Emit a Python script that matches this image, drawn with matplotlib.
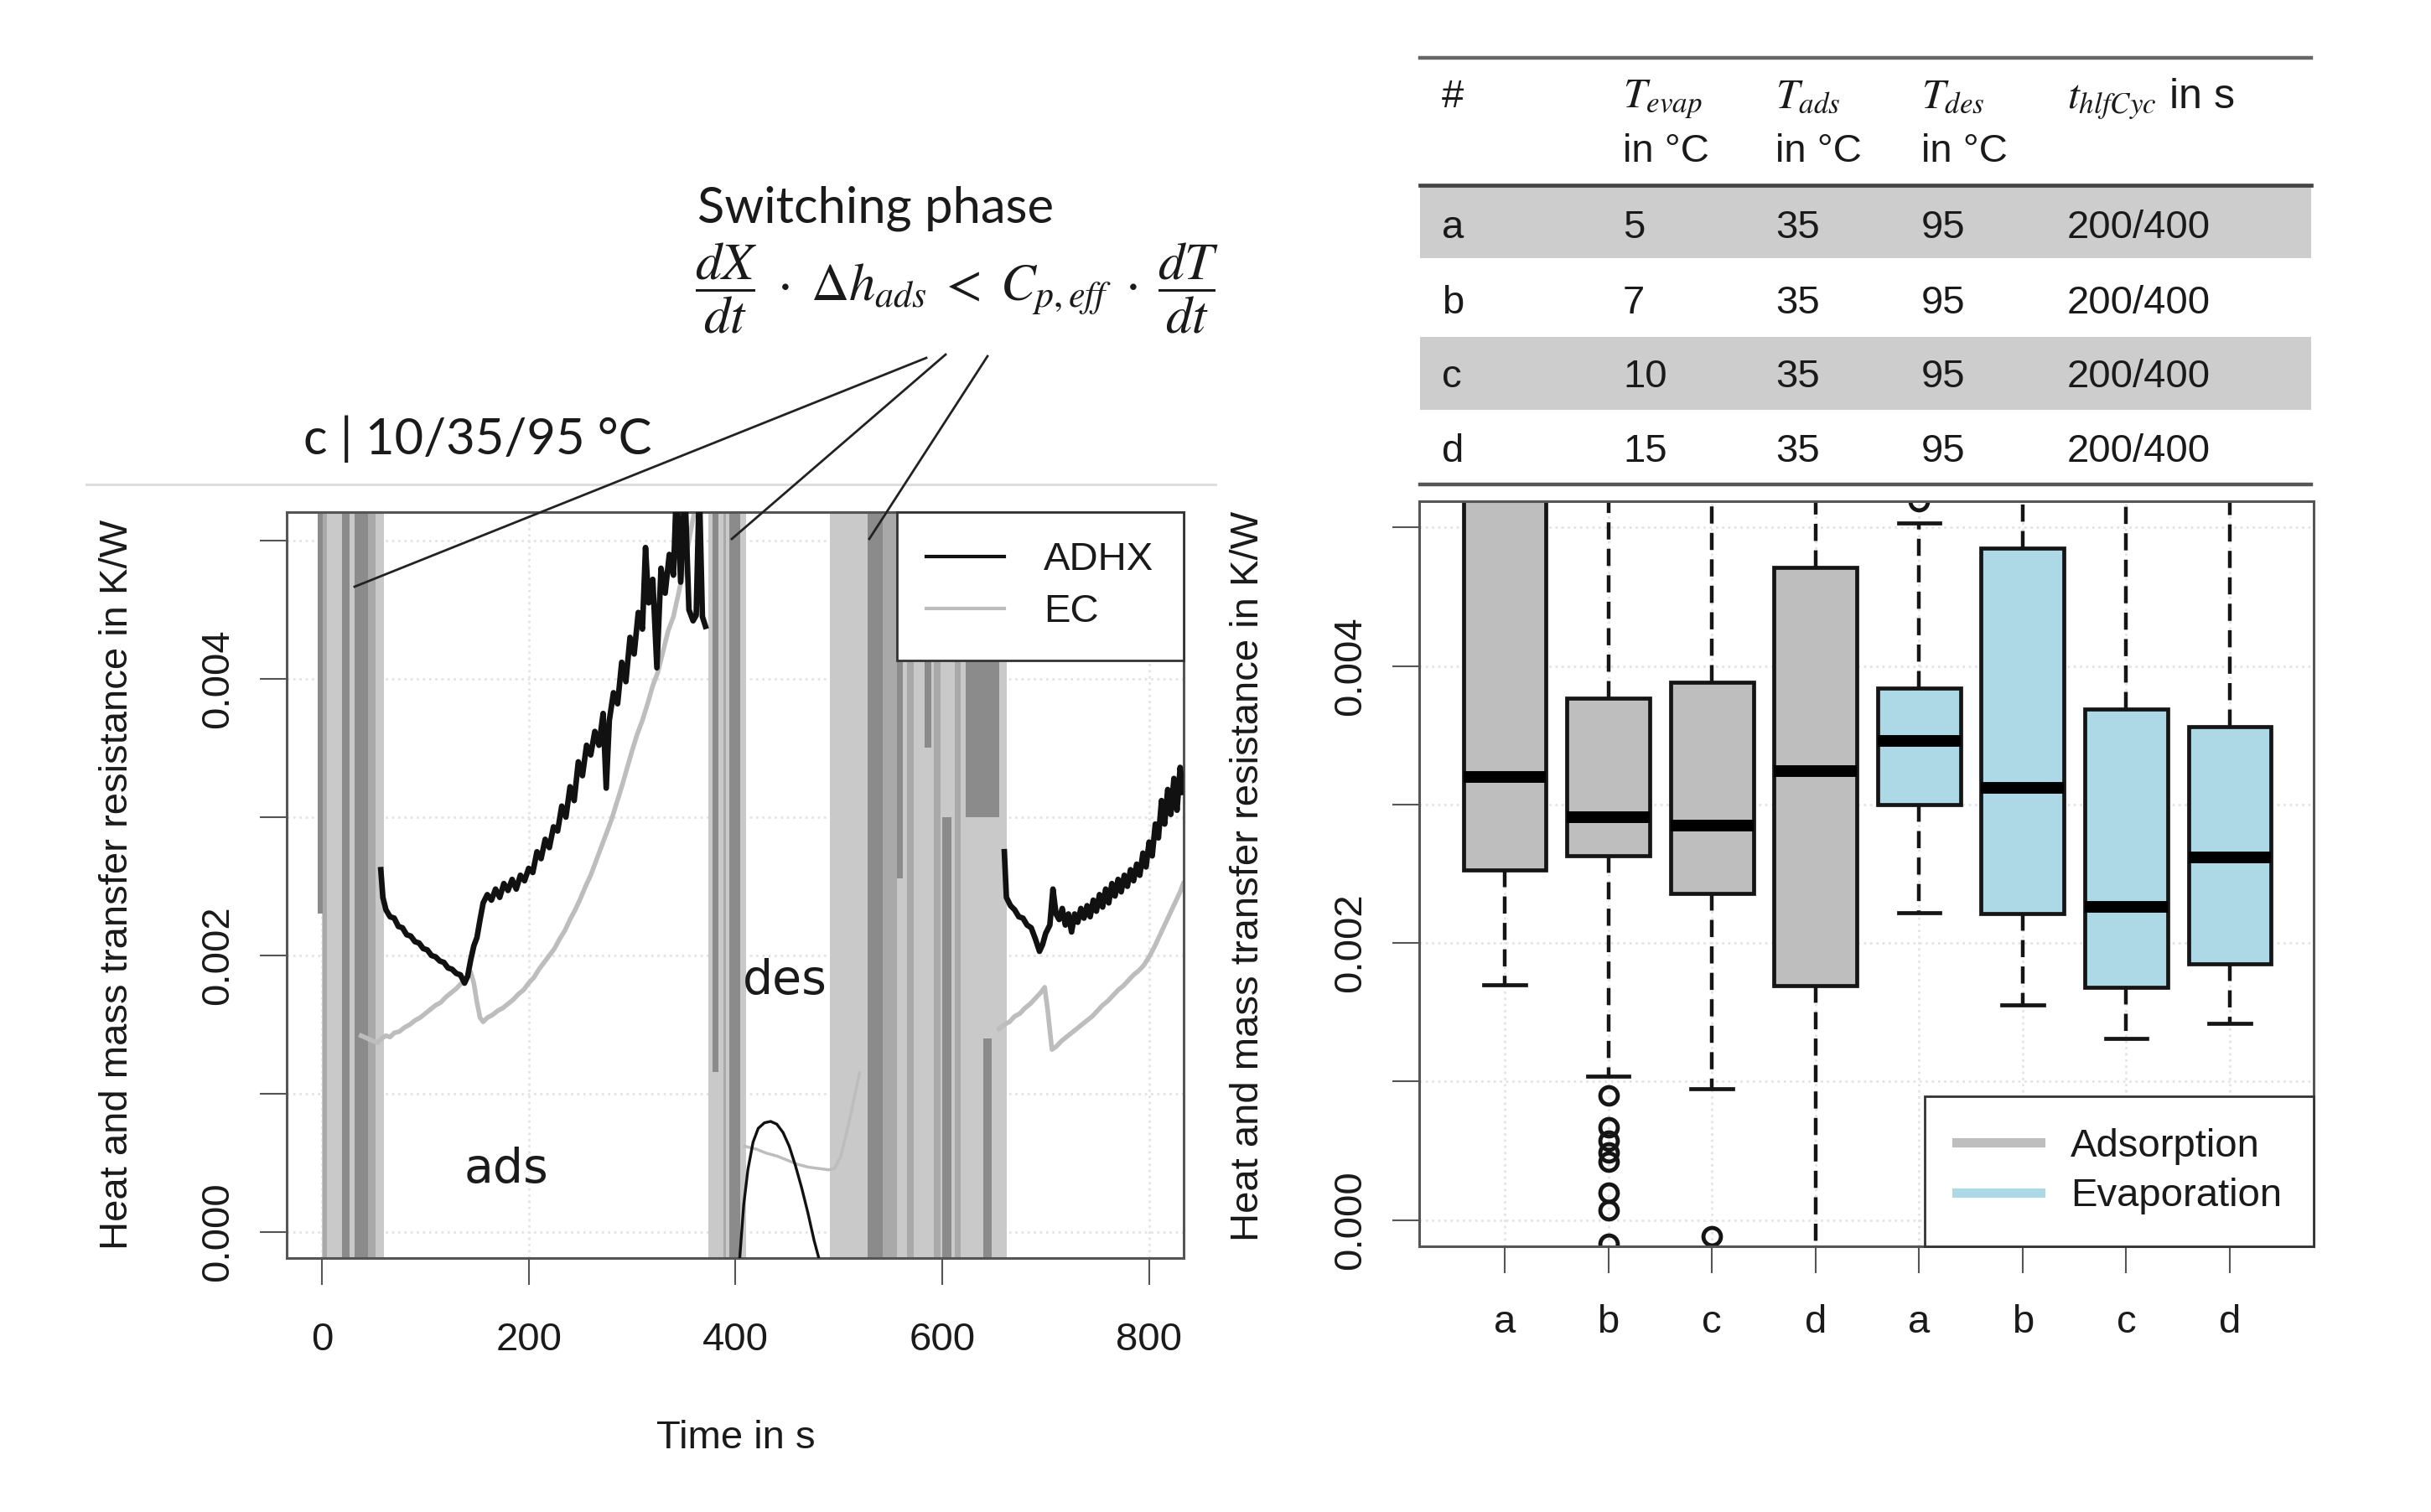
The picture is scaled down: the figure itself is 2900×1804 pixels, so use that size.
import numpy as np
import matplotlib
matplotlib.use('Agg')
import matplotlib.pyplot as plt
from matplotlib.lines import Line2D
from matplotlib.patches import Rectangle

plt.rcParams['font.family'] = ['Liberation Sans', 'DejaVu Sans']
plt.rcParams['mathtext.fontset'] = 'stix'

# ===================== DATA: left panel, case c | 10/35/95 °C =====================
# resistances are given in 1e-3 K/W
t_adhx_ads = [57, 59, 62, 66, 70, 74, 78, 82, 86, 90, 94, 98, 102, 106, 110, 114, 118, 122,
              126, 130, 134, 138, 141, 144, 147, 150, 153, 156, 160, 164, 168, 172, 176, 180,
              184, 188, 192, 196, 200, 204, 208, 212, 216, 220, 224, 228, 232, 236, 240, 244,
              248, 252, 256, 260, 264, 268, 272, 275, 278, 282, 286, 290, 294, 298, 302, 306,
              310, 313, 316, 320, 324, 328, 332, 336, 340, 343, 347, 351, 355, 359, 362, 365,
              368, 371]
r_adhx_ads = [2.62, 2.42, 2.33, 2.28, 2.27, 2.21, 2.20, 2.15, 2.14, 2.10, 2.09, 2.05, 2.04,
              2.00, 1.99, 1.96, 1.95, 1.91, 1.90, 1.87, 1.86, 1.80, 1.85, 1.97, 2.07, 2.13,
              2.26, 2.38, 2.44, 2.40, 2.48, 2.42, 2.52, 2.47, 2.55, 2.48, 2.58, 2.54, 2.63,
              2.60, 2.75, 2.70, 2.84, 2.78, 2.93, 2.90, 3.08, 3.00, 3.22, 3.12, 3.40, 3.30,
              3.52, 3.45, 3.62, 3.52, 3.75, 3.21, 3.70, 3.90, 3.82, 4.12, 3.98, 4.30, 4.18,
              4.48, 4.36, 4.95, 4.55, 4.72, 4.08, 4.80, 4.62, 4.90, 4.75, 5.40, 4.70, 5.40,
              4.50, 4.42, 4.46, 5.40, 4.45, 4.38]

t_ec_ads = [38, 44, 50, 54, 58, 62, 66, 70, 75, 80, 85, 90, 95, 100, 105, 110, 115, 120, 125,
            130, 135, 140, 144, 147, 150, 153, 156, 160, 165, 170, 175, 180, 185, 190, 195,
            200, 205, 210, 215, 220, 225, 230, 235, 240, 245, 250, 255, 260, 265, 270, 275,
            280, 285, 290, 295, 300, 305, 310, 315, 320, 325, 330, 335, 340, 345, 350, 355,
            360, 365]
r_ec_ads = [1.42, 1.40, 1.38, 1.37, 1.40, 1.42, 1.41, 1.44, 1.45, 1.48, 1.50, 1.53, 1.55,
            1.58, 1.61, 1.64, 1.66, 1.70, 1.73, 1.76, 1.80, 1.84, 1.88, 1.80, 1.66, 1.55,
            1.52, 1.55, 1.57, 1.60, 1.62, 1.65, 1.68, 1.72, 1.75, 1.80, 1.84, 1.90, 1.95,
            2.00, 2.05, 2.12, 2.18, 2.26, 2.33, 2.41, 2.50, 2.58, 2.68, 2.78, 2.88, 2.98,
            3.10, 3.22, 3.35, 3.48, 3.60, 3.70, 3.82, 3.95, 4.05, 4.20, 4.35, 4.45, 4.62,
            4.80, 5.00, 5.20, 5.40]

t_adhx_des = [404, 408, 412, 417, 422, 428, 434, 440, 446, 452, 458, 464, 470, 476, 481]
r_adhx_des = [-0.20, 0.20, 0.45, 0.65, 0.75, 0.79, 0.80, 0.78, 0.72, 0.62, 0.48, 0.32,
              0.14, -0.06, -0.20]

t_ec_des = [409, 420, 430, 440, 450, 460, 470, 480, 490, 496, 502, 510, 520]
r_ec_des = [0.62, 0.60, 0.57, 0.55, 0.52, 0.49, 0.47, 0.46, 0.45, 0.46, 0.55, 0.80, 1.15]

t_adhx_ads2 = [660, 662, 666, 670, 674, 678, 682, 686, 690, 694, 697, 700, 704, 707, 710,
               713, 716, 719, 722, 725, 728, 731, 734, 737, 740, 743, 746, 749, 752, 755,
               758, 761, 764, 767, 770, 773, 776, 779, 782, 785, 788, 791, 794, 797, 800,
               803, 806, 809, 812, 815, 818, 821, 824, 827, 830, 833]
r_adhx_ads2 = [2.75, 2.42, 2.36, 2.33, 2.28, 2.27, 2.22, 2.20, 2.12, 2.03, 2.08, 2.16, 2.22,
               2.48, 2.30, 2.26, 2.34, 2.22, 2.30, 2.17, 2.30, 2.24, 2.34, 2.27, 2.36, 2.28,
               2.40, 2.32, 2.44, 2.35, 2.48, 2.38, 2.52, 2.43, 2.55, 2.46, 2.58, 2.50, 2.62,
               2.54, 2.66, 2.58, 2.74, 2.64, 2.82, 2.72, 2.95, 2.85, 3.12, 2.95, 3.20, 3.02,
               3.28, 3.05, 3.36, 3.18]

t_ec_ads2 = [655, 660, 665, 670, 675, 680, 685, 690, 695, 699, 702, 706, 710, 715, 720, 725,
             730, 735, 740, 745, 750, 755, 760, 765, 770, 775, 780, 785, 790, 795, 800, 805,
             810, 815, 820, 825, 830, 833]
r_ec_ads2 = [1.47, 1.50, 1.52, 1.56, 1.58, 1.62, 1.65, 1.69, 1.73, 1.77, 1.60, 1.32, 1.34,
             1.38, 1.41, 1.44, 1.47, 1.50, 1.53, 1.56, 1.60, 1.64, 1.67, 1.71, 1.75, 1.78,
             1.82, 1.86, 1.89, 1.93, 1.99, 2.06, 2.14, 2.22, 2.30, 2.38, 2.46, 2.52]

# switching phases: oscillating signals fill the range (start s, end s, low, high in 1e-3 K/W)
ec_sw_t0 = [0, 374, 491]
ec_sw_t1 = [60, 410, 662]
mix_sw_t0 = [1, 45, 388, 542, 566, 592, 612]
mix_sw_t1 = [5, 52, 391, 556, 572, 598, 618]
adhx_sw_t0 = [-4, 19.5, 32, 378, 394, 528, 556, 583, 600, 623, 640]
adhx_sw_t1 = [1, 27, 45, 383.5, 404.5, 542, 562, 589, 609, 655, 648]
adhx_sw_lo = [2.3, -9, -9, 1.16, -9, -9, 2.56, 3.5, -9, 3.0, -9]
adhx_sw_hi = [9, 9, 9, 9, 9, 9, 9, 9, 3.0, 9, 1.4]

# ===================== DATA: right panel, boxplots =====================
box_labels = ['a', 'b', 'c', 'd', 'a', 'b', 'c', 'd']
box_group = ['Adsorption'] * 4 + ['Evaporation'] * 4
box_q1 = [2.53, 2.63, 2.36, 1.69, 3.00, 2.21, 1.68, 1.85]
box_med = [3.20, 2.91, 2.85, 3.24, 3.46, 3.12, 2.26, 2.62]
box_q3 = [6.20, 3.77, 3.88, 4.71, 3.84, 4.85, 3.69, 3.56]
box_wlo = [1.70, 1.04, 0.95, -1.00, 2.22, 1.55, 1.31, 1.42]
box_whi = [8.00, 6.00, 6.00, 7.00, 5.03, 6.50, 6.00, 6.00]
box_fliers = [[], [0.90, 0.67, 0.57, 0.49, 0.42, 0.20, 0.07, -0.17], [-0.12], [],
              [5.19], [], [], []]

# ===================== DATA: table =====================
tab_case = ['a', 'b', 'c', 'd']
tab_t_evap = ['5', '7', '10', '15']
tab_t_ads = ['35', '35', '35', '35']
tab_t_des = ['95', '95', '95', '95']
tab_t_cyc = ['200/400', '200/400', '200/400', '200/400']

K = 1e-3
W, H = 2900, 1804
fig = plt.figure(figsize=(W / 100, H / 100), dpi=100)
TXT = '#1a1a1a'
FRAME = '#555555'
FS = 34


def px(x0, y0, x1, y1):
    return [x0 / W, 1 - y1 / H, (x1 - x0) / W, (y1 - y0) / H]


def style_axes(ax):
    for s in ax.spines.values():
        s.set_color(FRAME)
        s.set_linewidth(2.2)
    ax.tick_params(length=23, width=1.5, color=FRAME, labelsize=FS, labelcolor=TXT)
    ax.tick_params(axis='y', labelrotation=90, pad=20)
    for lab in ax.get_yticklabels():
        lab.set_va('center')
    ax.grid(True, color='#e4e4e4', linestyle=':', linewidth=2)
    ax.set_axisbelow(True)


yt = [0, 0.001, 0.002, 0.003, 0.004, 0.005]
ytl = ['0.000', '', '0.002', '', '0.004', '']

# -------- LEFT: time series --------
ax = fig.add_axes(px(342, 611, 1412, 1501))
ax.set_xlim(-34, 833.4)
ax.set_ylim(-0.000188, 0.005206)

for t0, t1 in zip(ec_sw_t0, ec_sw_t1):
    ax.fill_between([t0, t1], -1, 1, color='#c9c9c9', lw=0, zorder=1)
for t0, t1 in zip(mix_sw_t0, mix_sw_t1):
    ax.fill_between([t0, t1], -1, 1, color='#a9a9a9', lw=0, zorder=1.1)
for t0, t1, lo, hi in zip(adhx_sw_t0, adhx_sw_t1, adhx_sw_lo, adhx_sw_hi):
    ax.fill_between([t0, t1], lo * K, hi * K, color='#8b8b8b', lw=0, zorder=1.2)

ec_col = '#bdbdbd'
ax.plot(t_ec_ads, np.array(r_ec_ads) * K, color=ec_col, lw=4, zorder=2)
ax.plot(t_ec_des, np.array(r_ec_des) * K, color=ec_col, lw=2.5, zorder=2)
ax.plot(t_ec_ads2, np.array(r_ec_ads2) * K, color=ec_col, lw=4, zorder=2)
ax.plot(t_adhx_ads, np.array(r_adhx_ads) * K, color='#111111', lw=4.8, zorder=3)
ax.plot(t_adhx_des, np.array(r_adhx_des) * K, color='#111111', lw=2.4, zorder=3)
ax.plot(t_adhx_ads2, np.array(r_adhx_ads2) * K, color='#111111', lw=4.8, zorder=3)

ax.set_xticks([0, 200, 400, 600, 800])
ax.set_yticks(yt)
ax.set_yticklabels(ytl)
style_axes(ax)
ax.tick_params(axis='x', pad=32)

ax.text(178, 0.000355, 'ads', family='DejaVu Sans', fontsize=41, color=TXT,
        ha='center', va='baseline', zorder=5)
ax.text(448, 0.00172, 'des', family='DejaVu Sans', fontsize=41, color=TXT,
        ha='center', va='baseline', zorder=5)

leg = ax.legend([Line2D([], [], color='#111111', lw=3), Line2D([], [], color=ec_col, lw=3)],
                ['ADHX', 'EC'], loc='upper right', bbox_to_anchor=(1, 1), borderaxespad=0,
                fontsize=FS, fancybox=False, framealpha=1, edgecolor='#333333',
                handlelength=1.97, handletextpad=1.0, borderpad=0.75, labelspacing=0.38)
leg.get_frame().set_linewidth(2)
leg.set_zorder(6)
for tx in leg.get_texts():
    tx.set_color(TXT)

# -------- RIGHT: boxplots --------
ax2 = fig.add_axes(px(1693, 598, 2760, 1487))
pos = np.arange(1, len(box_labels) + 1)
stats = []
for i in range(len(box_labels)):
    stats.append(dict(q1=box_q1[i] * K, med=box_med[i] * K, q3=box_q3[i] * K,
                      whislo=box_wlo[i] * K, whishi=box_whi[i] * K,
                      fliers=np.array(box_fliers[i]) * K, label=box_labels[i]))
EDGE = '#151515'
bp = ax2.bxp(stats, positions=pos, widths=0.8, capwidths=0.4, patch_artist=True,
             boxprops=dict(edgecolor=EDGE, linewidth=3.4),
             medianprops=dict(color='black', linewidth=10, solid_capstyle='butt'),
             whiskerprops=dict(color=EDGE, linewidth=3.2, linestyle=(0, (4.6, 2.5))),
             capprops=dict(color=EDGE, linewidth=3.4),
             flierprops=dict(marker='o', markerfacecolor='none', markeredgecolor=EDGE,
                             markersize=15, markeredgewidth=3.5))
group_col = {'Adsorption': '#bebebe', 'Evaporation': '#add8e6'}
for b, g in zip(bp['boxes'], box_group):
    b.set_facecolor(group_col[g])
ax2.set_xlim(0.1746, 8.809)
ax2.set_ylim(-0.00019, 0.00519)
ax2.set_yticks(yt)
ax2.set_yticklabels(ytl)
ax2.set_xticks(pos)
ax2.set_xticklabels(box_labels)
style_axes(ax2)
ax2.tick_params(axis='x', pad=27)

leg2 = ax2.legend([Line2D([], [], color=group_col['Adsorption'], lw=8),
                   Line2D([], [], color=group_col['Evaporation'], lw=8)],
                  ['Adsorption', 'Evaporation'], loc='lower right', bbox_to_anchor=(1, 0),
                  borderaxespad=0, fontsize=FS, fancybox=False, framealpha=1,
                  edgecolor='#333333', handlelength=2.12, handletextpad=0.76,
                  borderpad=0.8, labelspacing=0.33)
leg2.get_frame().set_linewidth(2)
for tx in leg2.get_texts():
    tx.set_color(TXT)

# axis titles
ylab = 'Heat and mass transfer resistance in K/W'
fig.text(140 / W, 1 - 1055 / H, ylab, rotation=90, ha='center', va='center',
         fontsize=FS, color=TXT)
fig.text(1489 / W, 1 - 1045 / H, ylab, rotation=90, ha='center', va='center',
         fontsize=FS, color=TXT)
fig.text(878 / W, 1 - 1728 / H, 'Time in s', ha='center', va='baseline',
         fontsize=FS, color=TXT)

# -------- overlay in pixel coordinates: annotations and table --------
ov = fig.add_axes([0, 0, 1, 1], zorder=10)
ov.set_xlim(0, W)
ov.set_ylim(H, 0)
ov.axis('off')
ov.patch.set_alpha(0)

ov.plot([103, 1450], [578, 578], color='#dedede', lw=2.2)
ov.text(832, 265, 'Switching phase', family=['Lato', 'DejaVu Sans'], fontsize=43,
        color=TXT, ha='left', va='baseline')
ov.text(829, 344,
        r'$\dfrac{dX}{dt}\;\cdot\;\Delta h_{ads}\;<\;C_{p,eff}\;\cdot\;\dfrac{dT}{dt}$',
        fontsize=45, color=TXT, ha='left', va='center')
ov.text(362, 542, 'c | 10/35/95 °C', family=['Lato', 'DejaVu Sans'], fontsize=43,
        color=TXT, ha='left', va='baseline')
for (x0, y0), (x1, y1) in [((1105, 427), (423, 700)), ((1128, 423), (873, 643)),
                           ((1178, 425), (1037, 643))]:
    ov.plot([x0, x1], [y0, y1], color='#222222', lw=2)

# table
TL, TR = 1694, 2757
row_top = [222, 312, 402, 491]
row_bot = [308, 398, 489, 576]
row_base = [284, 374, 462, 551]
for i in (0, 2):
    ov.add_patch(Rectangle((TL, row_top[i]), TR - TL, row_bot[i] - row_top[i],
                           facecolor='#cdcdcd', edgecolor='none'))
ov.plot([TL, TR], [69, 69], color='#666666', lw=3.2)
ov.plot([TL, TR], [221, 221], color='#444444', lw=3.4)
ov.plot([TL, TR], [578, 578], color='#555555', lw=3.2)

col_x = [1720, 1936, 2118, 2292, 2466]
hdr_kw = dict(fontsize=FS, color=TXT, ha='left', va='baseline')
ov.text(col_x[0], 128, '#', **hdr_kw)
ov.text(col_x[1], 128, r'$T_{evap}$', fontsize=36, color=TXT, ha='left', va='baseline')
ov.text(col_x[2], 128, r'$T_{ads}$', fontsize=36, color=TXT, ha='left', va='baseline')
ov.text(col_x[3], 128, r'$T_{des}$', fontsize=36, color=TXT, ha='left', va='baseline')
ov.text(col_x[4], 129, r'$t_{hlfCyc}$ in s', fontsize=36, color=TXT, ha='left',
        va='baseline')
for cx in col_x[1:4]:
    ov.text(cx, 193, 'in °C', **hdr_kw)
for i in range(len(tab_case)):
    cells = [tab_case[i], tab_t_evap[i], tab_t_ads[i], tab_t_des[i], tab_t_cyc[i]]
    for cx, s in zip(col_x, cells):
        ov.text(cx, row_base[i], s, **hdr_kw)

fig.savefig('out.png', dpi=100, facecolor='white')
